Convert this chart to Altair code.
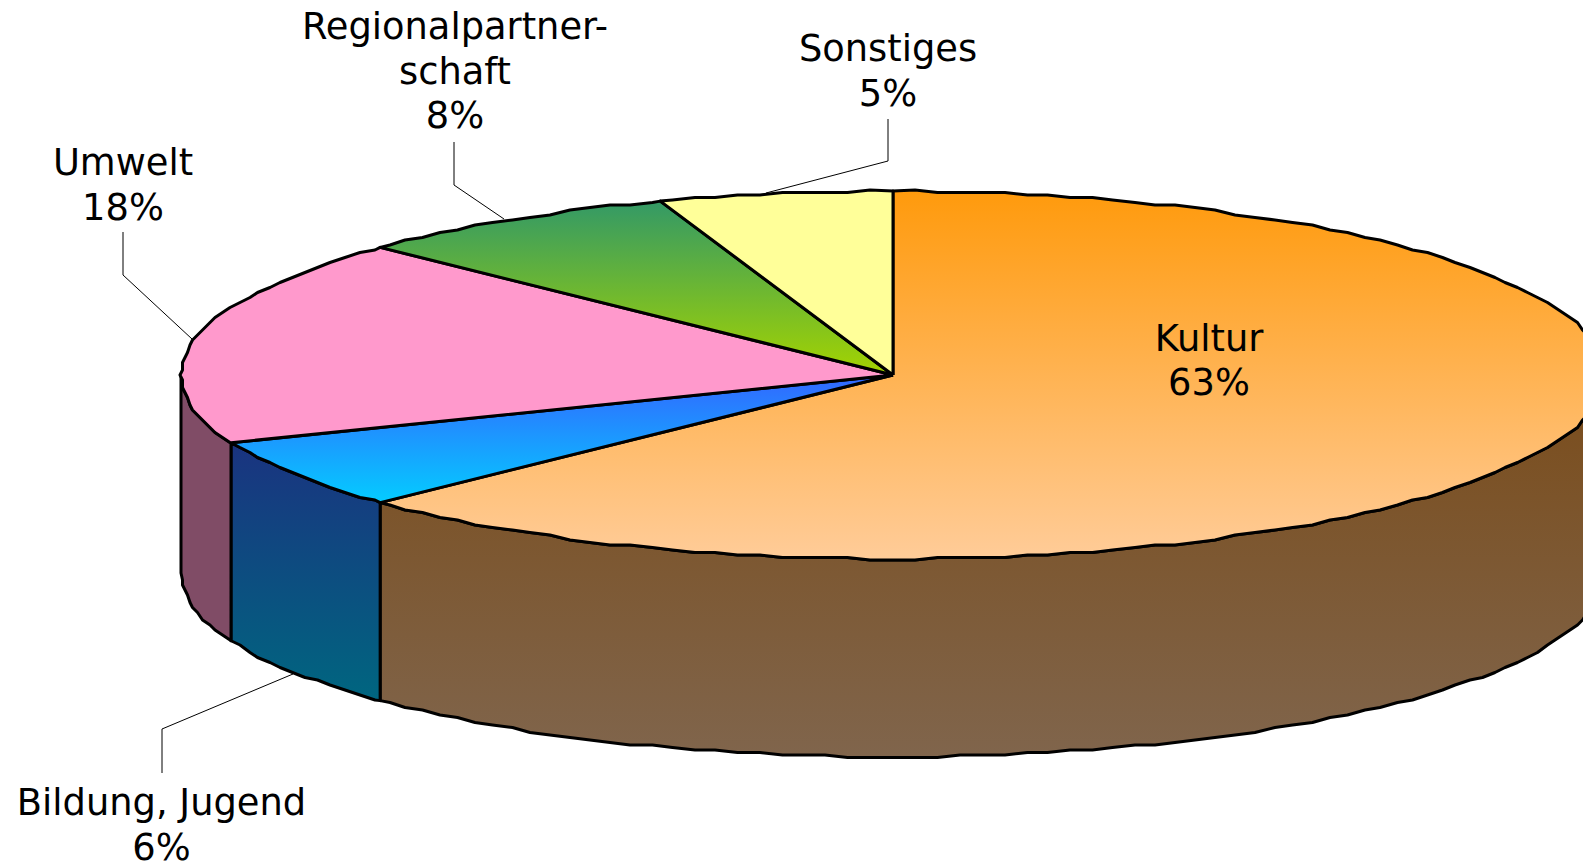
import math
import altair as alt
import pandas as pd

# Values read from the picture (slice sizes as measured from the slice edges;
# the printed percentages are their rounded values)
categories = ["Kultur", "Bildung, Jugend", "Umwelt", "Regionalpartnerschaft", "Sonstiges"]
shares = [62.8, 6.2, 18.2, 7.5, 5.3]
top_colors = [("#ff9a0c", "#ffcc99"), ("#3366ff", "#04ccff"), ("#ff99cc", "#ff99cc"),
              ("#339966", "#a4d400"), ("#ffff99", "#ffff99")]
side_colors = [("#7a4c1a", "#80654c"), ("#1a3380", "#006680"), ("#804c66", "#804c66")]

label_lines = [["Kultur", "63%"], ["Bildung, Jugend", "6%"], ["Umwelt", "18%"],
               ["Regionalpartner-", "schaft", "8%"], ["Sonstiges", "5%"]]
label_x = [1209, 161.5, 123, 455, 888]
label_y = [339.5, 804, 164, 28, 50]
line_gap = 44.6
leaders = [None,
           [(162, 773), (162, 729), (293, 674)],
           [(123, 232), (123, 275), (192, 339)],
           [(454, 142), (454, 185), (504, 219)],
           [(888, 119), (888, 161), (766, 193)]]

CX, CY, RX, RY, DEPTH = 893, 375, 712, 184, 198
W, H = 1575, 856
GRID = 2.5
STEP = 1.8

x_scale = alt.Scale(domain=[8, 8 + W], nice=False, zero=False)
y_scale = alt.Scale(domain=[8 + H, 8], nice=False, zero=False)


def pt(deg, drop=0):
    a = math.radians(deg)
    return CX + RX * math.sin(a), CY - RY * math.cos(a) + drop


def arc(a0, a1, drop=0):
    # outline vertices sit on a coarse grid, as in the metafile original;
    # they use one shared angle lattice so that neighbouring faces coincide
    lo, hi = min(a0, a1), max(a0, a1)
    k0 = math.floor(lo / STEP) + 1
    k1 = math.ceil(hi / STEP) - 1
    inner = [k * STEP for k in range(k0, k1 + 1)]
    angles = [lo] + inner + [hi]
    if a0 > a1:
        angles.reverse()
    out = []
    for i, ang in enumerate(angles):
        x, y = pt(ang, drop)
        if 0 < i < len(angles) - 1:
            x, y = round(x / GRID) * GRID, round(y / GRID) * GRID
        out.append((x, y))
    return out


def poly(points, stops, stroke_w=3):
    df = pd.DataFrame({"px": [p[0] for p in points], "py": [p[1] for p in points],
                       "i": list(range(len(points)))})
    grad = alt.Gradient(gradient="linear", x1=0, y1=0, x2=0, y2=1,
                        stops=[alt.GradientStop(color=stops[0], offset=0),
                               alt.GradientStop(color=stops[1], offset=1)])
    return alt.Chart(df).mark_line(fill=grad, stroke="black", strokeWidth=stroke_w,
                                   strokeJoin="round", clip=True).encode(
        x=alt.X("px:Q", scale=x_scale, axis=None),
        y=alt.Y("py:Q", scale=y_scale, axis=None),
        order="i:Q")


bounds = [0]
for s in shares:
    bounds.append(bounds[-1] + s * 3.6)

layers = []
# leader lines go under the pie
for pts in leaders:
    if pts:
        df = pd.DataFrame({"px": [p[0] for p in pts], "py": [p[1] for p in pts], "i": [0, 1, 2]})
        layers.append(alt.Chart(df).mark_line(color="black", strokeWidth=1).encode(
            x=alt.X("px:Q", scale=x_scale, axis=None),
            y=alt.Y("py:Q", scale=y_scale, axis=None),
            order="i:Q"))

# side walls: visible front part of the rim only
side_spans = [(90, bounds[1]), (bounds[1], bounds[2]), (bounds[2], 270)]
for (a0, a1), c in zip(side_spans, side_colors):
    top_edge = arc(a0, a1)
    bottom_edge = arc(a1, a0, DEPTH)
    pts = top_edge + bottom_edge + [top_edge[0]]
    layers.append(poly(pts, c))

# top face
for k in range(len(shares)):
    pts = [(CX, CY)] + arc(bounds[k], bounds[k + 1]) + [(CX, CY)]
    layers.append(poly(pts, top_colors[k]))

# labels
rows = []
for lines, lx, ly in zip(label_lines, label_x, label_y):
    for j, t in enumerate(lines):
        rows.append({"t": t, "px": lx, "py": ly + j * line_gap})
layers.append(alt.Chart(pd.DataFrame(rows)).mark_text(
    font="DejaVu Sans", fontSize=36.8, color="black", align="center", baseline="middle").encode(
    x=alt.X("px:Q", scale=x_scale, axis=None),
    y=alt.Y("py:Q", scale=y_scale, axis=None),
    text="t:N"))

chart = alt.layer(*layers).properties(
    width=W, height=H, padding=0, background="white",
    autosize=alt.AutoSizeParams(type="none")
).configure_view(stroke=None)

chart.save("out.html", embed_options={"renderer": "svg", "actions": False})
